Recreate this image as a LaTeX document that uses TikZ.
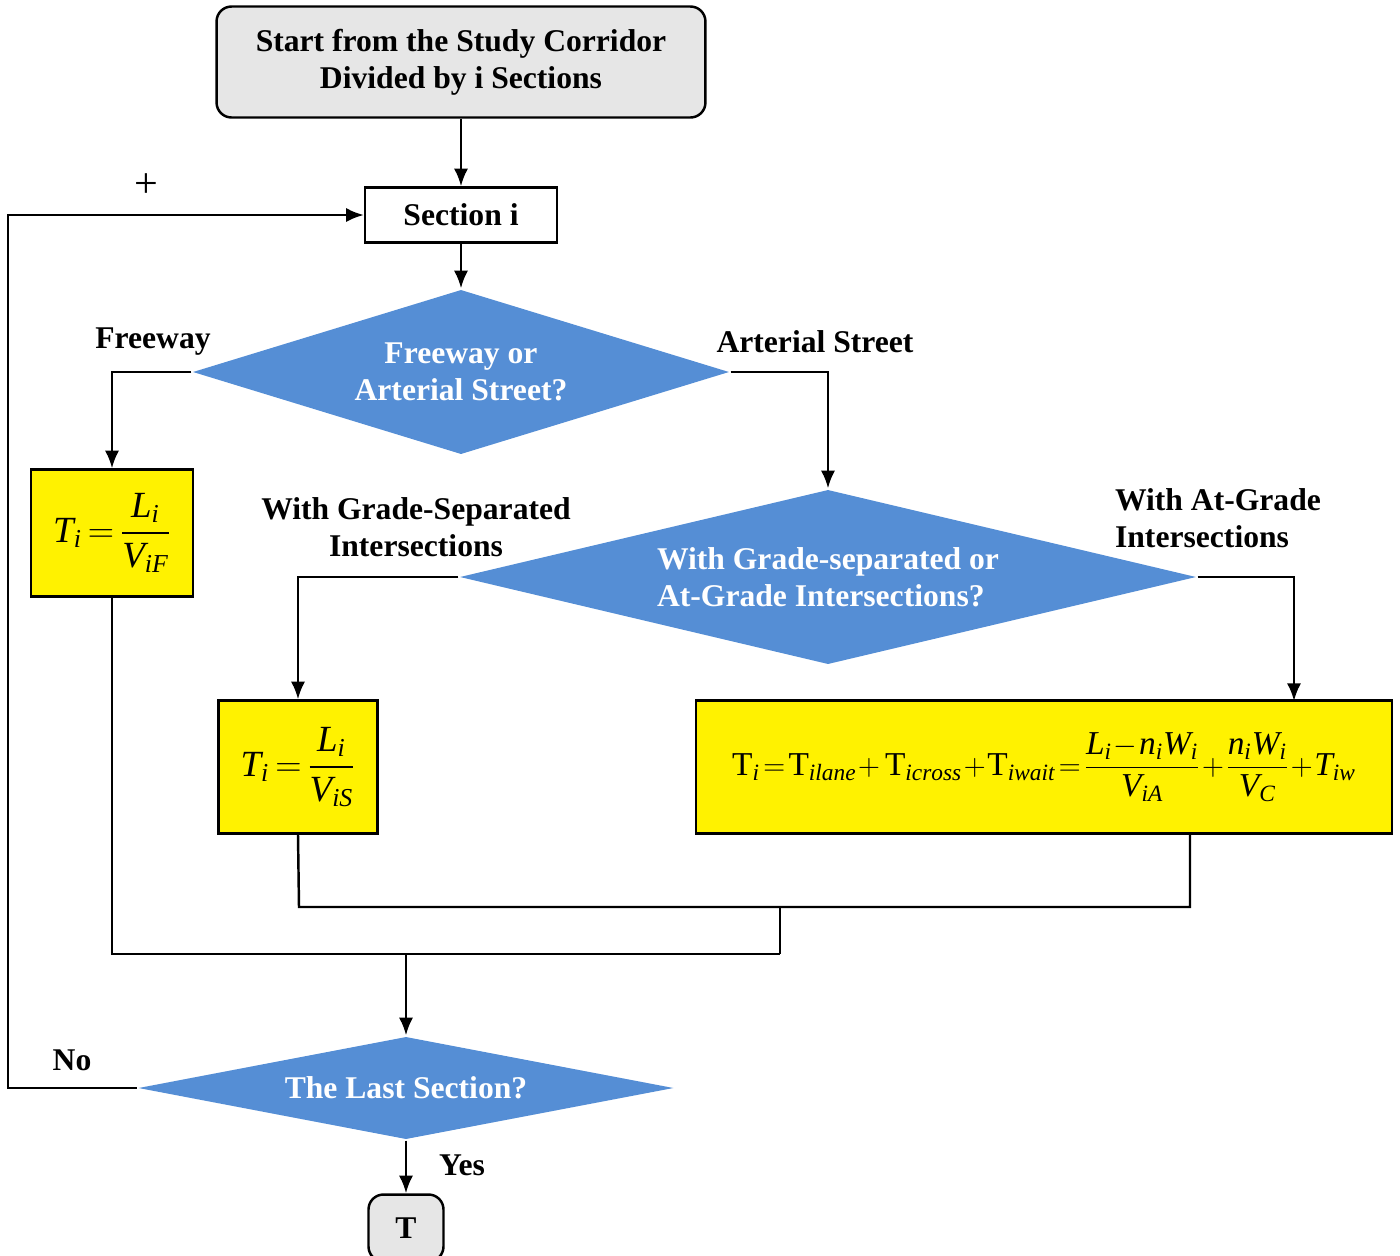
\documentclass[tikz,border=0pt]{standalone}
\usepackage{amsmath}
\usepackage{fontspec}
\setmainfont{Liberation Serif}
\usetikzlibrary{arrows,arrows.meta,shapes.geometric,positioning}

\definecolor{deciblue}{RGB}{85,142,213}
\definecolor{termgray}{RGB}{230,230,230}
\newcommand{\tmv}[1]{\mathit{#1}}

\begin{document}
\begin{tikzpicture}[x=0.02cm,y=-0.02cm,>={Latex[length=10pt,width=8pt]},line width=1.4pt,
  every node/.style={font=\fontsize{18}{21}\selectfont\bfseries},
  termbox/.style={draw,rounded corners=0.3cm,fill=termgray,align=center,inner sep=0pt},
  procbox/.style={draw,align=center,inner sep=0pt},
  formbox/.style={draw,fill=yellow,inner sep=0pt,font=\fontsize{21}{25}\selectfont},
  decision/.style={diamond,fill=deciblue,text=white,align=center,inner sep=0pt}]
  \useasboundingbox (0,0) rectangle (1400,1255);

  \node[termbox,minimum width=9.78cm,minimum height=2.22cm] (start) at (461,62)
    {Start from the Study Corridor\\Divided by i Sections};
  \node[procbox,minimum width=3.84cm,minimum height=1.1cm] (sec) at (461,215) {Section i};

  \node[decision,aspect=3.25,minimum width=10.74cm,minimum height=3.3cm] (road) at (461,372)
    {Freeway or\\Arterial Street?};
  \node[decision,align=left,aspect=4.2,minimum width=14.74cm,minimum height=3.5cm] (inter) at (828,577)
    {With Grade-separated or\\At-Grade Intersections?};
  \node[decision,aspect=5.2,minimum width=10.72cm,minimum height=2.06cm] (last) at (406,1088)
    {The Last Section?};

  \node[formbox,minimum width=3.24cm,minimum height=2.54cm] (fwy) at (112,533)
    {\thickmuskip=3mu
     $\tmv{T}_{\tmv{i}}=\dfrac{\tmv{L}_{\tmv{i}}}{\tmv{V}_{\tmv{iF}}}$};
  \node[formbox,minimum width=3.18cm,minimum height=2.66cm] (grsep) at (298,767)
    {\thickmuskip=3mu
     $\tmv{T}_{\tmv{i}}=\dfrac{\tmv{L}_{\tmv{i}}}{\tmv{V}_{\tmv{iS}}}$};
  \node[formbox,font=\fontsize{19}{23}\selectfont,minimum width=13.92cm,minimum height=2.66cm] (atgr) at (1044,767)
    {\thickmuskip=2mu\medmuskip=1mu
     $\mathrm{T}_{\tmv{i}}=\mathrm{T}_{\tmv{ilane}}+\;\mathrm{T}_{\tmv{icross}}+\mathrm{T}_{\tmv{iwait}}
      =\dfrac{\tmv{L}_{\tmv{i}}-\tmv{n}_{\tmv{i}}\tmv{W}_{\tmv{i}}}{\tmv{V}_{\tmv{iA}}}
      +\dfrac{\tmv{n}_{\tmv{i}}\tmv{W}_{\tmv{i}}}{\tmv{V}_{\tmv{C}}}+\tmv{T}_{\tmv{iw}}$};

  \node[termbox,minimum width=1.5cm,minimum height=1.34cm] (tot) at (406,1228) {T};

  % branch labels
  \node (lfwy) at (153,342) {Freeway};
  \node (lart) at (815,342) {Arterial Street};
  \node[align=center] (lgs) at (416,527) {With Grade-Separated\\Intersections};
  \node[align=left,anchor=west] (lag) at (1108,518) {With At-Grade\\Intersections};
  \node (lno) at (72,1060) {No};
  \node (lyes) at (462,1165) {Yes};
  \node[font=\fontsize{24}{28}\selectfont] (lplus) at (146,186) {+};

  % junction points
  \coordinate (aIn) at (1294,701);
  \coordinate (mS) at (299,907);
  \coordinate (mA) at (1190,907);
  \coordinate (mJ) at (780,907);
  \coordinate (mB) at (780,954);
  \coordinate (mF) at (112,954);
  \coordinate (mL) at (406,954);
  \coordinate (loop) at (8,1088);

  \draw[->] (start) -- (sec);
  \draw[->] (sec) -- (road);
  \draw[->] (road.west) -| (fwy.north);
  \draw[->] (road.east) -| (inter.north);
  \draw[->] (inter.west) -| (grsep.north);
  \draw[->] (inter.east) -| (aIn);

  \draw (grsep.south) -- (mS) -- (mA) -- (mA |- atgr.south);
  \draw (mJ) -- (mB);
  \draw (fwy.south) -- (mF) -- (mB);
  \draw[->] (mL) -- (last.north);
  \draw[->] (last.west) -- (loop) |- (sec.west);
  \draw[->] (last.south) -- (tot.north);
\end{tikzpicture}
\end{document}
